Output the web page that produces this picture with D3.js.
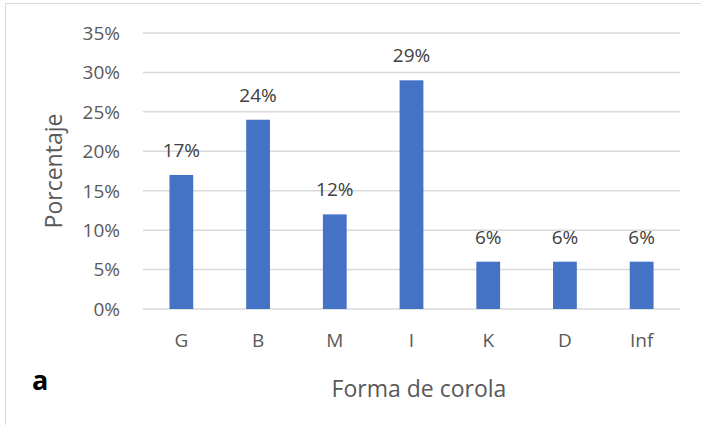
<!DOCTYPE html>
<html>
<head>
<meta charset="utf-8">
<script src="https://cdn.jsdelivr.net/npm/d3@7"></script>
<style>
  body { margin: 0; background: #fff; }
  text { font-family: "Open Sans", sans-serif; }
</style>
</head>
<body>
<svg width="701" height="425"></svg>
<script>
var categories = ["G", "B", "M", "I", "K", "D", "Inf"];
var values = [17, 24, 12, 29, 6, 6, 6];
var yTicks = [0, 5, 10, 15, 20, 25, 30, 35];

var svg = d3.select("svg"),
    margin = { top: 33, right: 21, bottom: 116, left: 143 },
    width = 701 - margin.left - margin.right,
    height = 425 - margin.top - margin.bottom;

// outer chart frame
svg.append("rect")
    .attr("x", 5.5).attr("y", 3.5)
    .attr("width", 710).attr("height", 430)
    .attr("fill", "none")
    .attr("stroke", "#d9d9d9");

var g = svg.append("g")
    .attr("transform", "translate(" + margin.left + "," + margin.top + ")");

var x = d3.scaleBand().domain(categories).range([0, width]).paddingInner(0.69).paddingOuter(0.345);
var y = d3.scaleLinear().domain([0, 35]).range([height, 0]);

// gridlines
g.append("g")
    .selectAll("line")
    .data(yTicks)
    .enter().append("line")
    .attr("x1", 0).attr("x2", width)
    .attr("y1", function (d) { return y(d); })
    .attr("y2", function (d) { return y(d); })
    .attr("stroke", "#d9d9d9")
    .attr("stroke-width", 1.5);

// y tick labels
g.append("g")
    .selectAll("text")
    .data(yTicks)
    .enter().append("text")
    .attr("x", -23)
    .attr("y", function (d) { return y(d); })
    .attr("dy", "0.36em")
    .attr("text-anchor", "end")
    .attr("font-size", 19)
    .attr("fill", "#595959")
    .text(function (d) { return d + "%"; });

// bars
g.append("g")
    .selectAll("rect")
    .data(values)
    .enter().append("rect")
    .attr("x", function (d, i) { return x(categories[i]); })
    .attr("y", function (d) { return y(d); })
    .attr("width", x.bandwidth())
    .attr("height", function (d) { return height - y(d); })
    .attr("fill", "#4472c4");

// data labels
g.append("g")
    .selectAll("text")
    .data(values)
    .enter().append("text")
    .attr("x", function (d, i) { return x(categories[i]) + x.bandwidth() / 2; })
    .attr("y", function (d) { return y(d) - 18; })
    .attr("text-anchor", "middle")
    .attr("font-size", 19)
    .attr("fill", "#404040")
    .text(function (d) { return d + "%"; });

// category labels
g.append("g")
    .selectAll("text")
    .data(categories)
    .enter().append("text")
    .attr("x", function (d) { return x(d) + x.bandwidth() / 2; })
    .attr("y", height + 38)
    .attr("text-anchor", "middle")
    .attr("font-size", 19)
    .attr("fill", "#595959")
    .text(function (d) { return d; });

// axis titles
svg.append("text")
    .attr("transform", "translate(62,171) rotate(-90)")
    .attr("text-anchor", "middle")
    .attr("font-size", 23)
    .attr("fill", "#595959")
    .text("Porcentaje");

svg.append("text")
    .attr("x", 419)
    .attr("y", 397)
    .attr("text-anchor", "middle")
    .attr("font-size", 23)
    .attr("fill", "#595959")
    .text("Forma de corola");

svg.append("text")
    .attr("x", 32)
    .attr("y", 390)
    .attr("font-family", "Liberation Sans, Arial, sans-serif")
    .attr("font-weight", "bold")
    .attr("font-size", 27)
    .attr("fill", "#000")
    .text("a");
</script>
</body>
</html>
